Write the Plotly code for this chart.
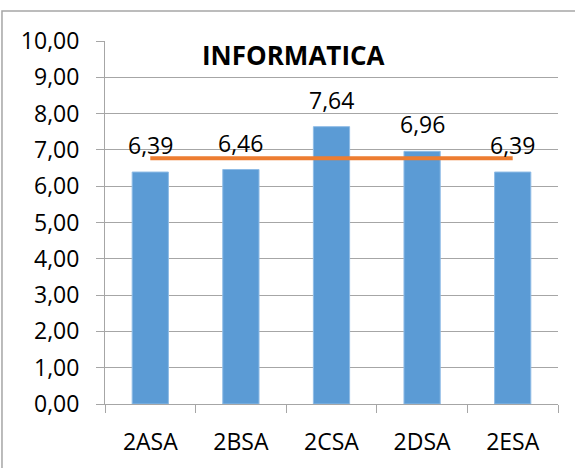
import plotly.graph_objects as go

categories = ["2ASA", "2BSA", "2CSA", "2DSA", "2ESA"]
scores = [6.39, 6.46, 7.64, 6.96, 6.39]
average = [6.77, 6.77, 6.77, 6.77, 6.77]
title_text = "INFORMATICA"

FONT = "Open Sans"
GRID = "#A6A6A6"

fig = go.Figure()
fig.add_trace(go.Bar(
    x=categories, y=scores,
    marker=dict(color="#5B9BD5", line=dict(color="#8FBCE6", width=1)),
    width=0.4, showlegend=False, hoverinfo="skip",
))
fig.add_trace(go.Scatter(
    x=categories, y=average, mode="lines",
    line=dict(color="#ED7D31", width=4), showlegend=False, hoverinfo="skip",
))

for c, v in zip(categories, scores):
    fig.add_annotation(x=c, y=v, text=f"{v:.2f}".replace(".", ","),
                       showarrow=False, yanchor="middle", yshift=27,
                       font=dict(family=FONT, size=23, color="#000000"))

fig.add_annotation(xref="paper", yref="paper", x=0.417, y=0.961,
                   text=f"<b>{title_text}</b>", showarrow=False,
                   xanchor="center", yanchor="middle",
                   font=dict(family=FONT, size=26, color="#000000"))

# outer chart border (cropped at right/bottom)
fig.add_shape(type="rect", xref="paper", yref="paper",
              x0=-0.2274, y0=-0.25, x1=1.1, y1=1.0826,
              line=dict(color="#A6A6A6", width=1.5), layer="below")

fig.update_layout(
    width=575, height=468,
    margin=dict(l=105, r=17, t=41, b=64),
    paper_bgcolor="white", plot_bgcolor="white",
    separators=",.",
    font=dict(family=FONT, size=23, color="#000000"),
    bargap=0.6,
)
fig.update_xaxes(
    type="category", showline=True, linecolor=GRID, linewidth=1,
    ticks="outside", tickson="boundaries", ticklen=8, tickcolor=GRID,
    showgrid=False, tickfont=dict(family=FONT, size=23),
    ticklabelstandoff=17,
)
fig.update_yaxes(
    range=[0, 10], dtick=1, tickformat=".2f",
    showline=True, linecolor=GRID, linewidth=1,
    ticks="outside", ticklen=8, tickcolor=GRID,
    showgrid=True, gridcolor=GRID, gridwidth=1, zeroline=False,
    tickfont=dict(family=FONT, size=23),
    ticklabelstandoff=12,
)

fig.write_html("out.html", config={"displayModeBar": False},
               post_script="document.body.style.margin='0';")
